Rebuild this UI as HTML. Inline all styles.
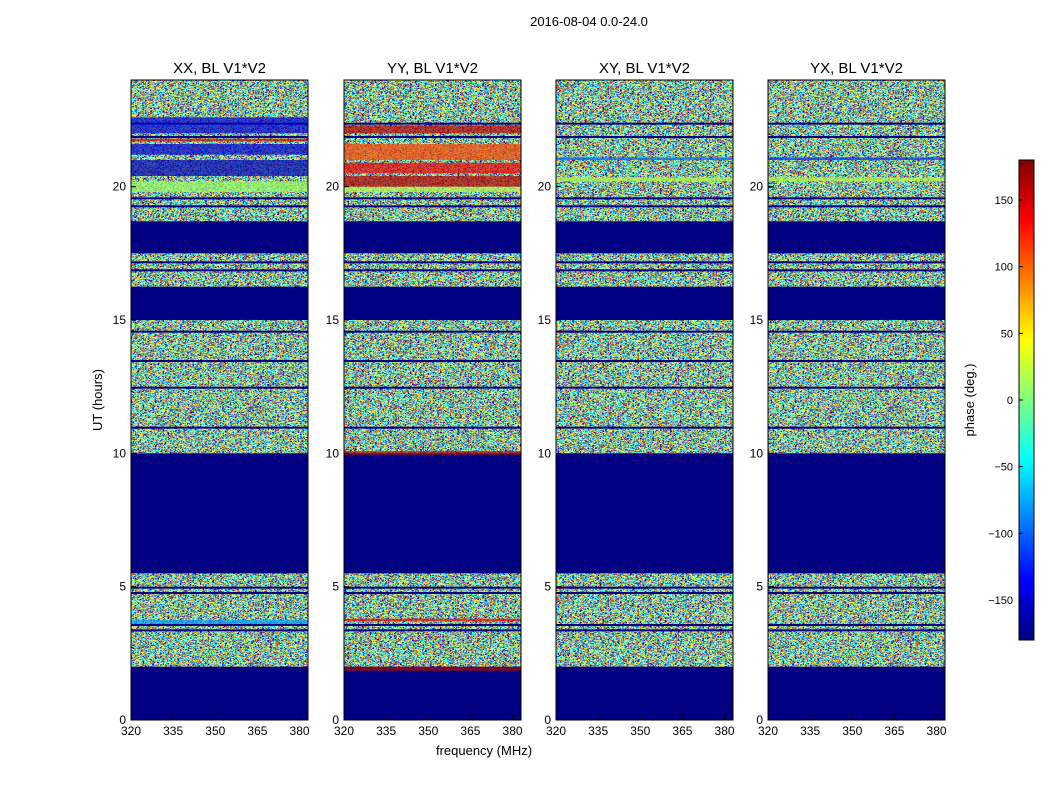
<!DOCTYPE html>
<html><head><meta charset="utf-8"><style>
body{margin:0;background:#fff;}
svg text{font-family:"Liberation Sans",sans-serif;}
</style></head><body>
<svg id="c" width="1050" height="800" xmlns="http://www.w3.org/2000/svg">
<defs>
<filter id="noise" x="0" y="0" width="100%" height="100%" filterUnits="objectBoundingBox">
<feTurbulence type="fractalNoise" baseFrequency="0.4 1.0" numOctaves="2" seed="3" result="t"/>
<feColorMatrix type="matrix" values="1 0 0 0 0  1 0 0 0 0  1 0 0 0 0  0 0 0 0 1"/>
<feComponentTransfer><feFuncR type="linear" slope="2.3" intercept="-0.68"/><feFuncG type="linear" slope="2.3" intercept="-0.68"/><feFuncB type="linear" slope="2.3" intercept="-0.68"/></feComponentTransfer>
<feComponentTransfer>
<feFuncR type="table" tableValues="0 0 0 0 0.5 1 1 1 0.5"/>
<feFuncG type="table" tableValues="0 0 0.5 1 1 1 0.5 0 0"/>
<feFuncB type="table" tableValues="0.5 1 1 1 0.5 0 0 0 0"/>
</feComponentTransfer>
</filter>
<linearGradient id="jet" x1="0" y1="1" x2="0" y2="0">
<stop offset="0" stop-color="#000080"/><stop offset="0.125" stop-color="#0000ff"/><stop offset="0.375" stop-color="#00ffff"/><stop offset="0.625" stop-color="#ffff00"/><stop offset="0.875" stop-color="#ff0000"/><stop offset="1" stop-color="#800000"/>
</linearGradient>
</defs>
<text x="589" y="26" font-size="13" text-anchor="middle">2016-08-04 0.0-24.0</text>
<g id="panels"></g>
<rect x="1019" y="160" width="15" height="480" fill="url(#jet)" stroke="#000"/>
<g id="cbticks"></g>
<text x="974" y="400" font-size="13" text-anchor="middle" transform="rotate(-90 974 400)">phase (deg.)</text>
<text x="102" y="400" font-size="13" text-anchor="middle" transform="rotate(-90 102 400)">UT (hours)</text>
<text x="484" y="755" font-size="13" text-anchor="middle">frequency (MHz)</text>
</svg>
<script>
const panelTitles=["XX, BL V1*V2","YY, BL V1*V2","XY, BL V1*V2","YX, BL V1*V2"];
const panelLeft=[131,344,556,768];
const emptyBands=[[0,2.0],[5.5,10.0],[15.0,16.25],[17.5,18.7]];
const gapLines=[3.6,3.4,4.8,5.0,11.0,12.5,13.5,14.6,16.9,17.2,19.3,19.6,21.9,22.4];
const panelStripes=[
 [[19.8,20.2,10],[20.4,21.0,-160],[21.2,21.6,-150],[22.0,22.6,-150],[21.7,21.8,150],[3.6,3.75,-80]],
 [[19.8,20.0,20],[20.0,20.4,160],[20.5,20.9,140],[21.0,21.6,110],[22.0,22.3,160],[1.85,2.0,160],[9.95,10.08,160],[3.7,3.8,140]],
 [[20.2,20.35,20],[21.0,21.1,-100]],
 [[20.2,20.35,20],[21.0,21.1,-120]]
];
const xTicks=[320,335,350,365,380];
const yTicks=[0,5,10,15,20];
const cbTicks=[-150,-100,-50,0,50,100,150];
const fMin=320,fMax=383,hMax=24;
const pw=177,yTop=80,yBot=720;
const ys=h=>yBot-(yBot-yTop)*h/hMax;
const cby=v=>400-v*480/360;
function jet(v){const t=(v+180)/360;const r=Math.max(0,Math.min(1,1.5-Math.abs(4*t-3))),g=Math.max(0,Math.min(1,1.5-Math.abs(4*t-2))),b=Math.max(0,Math.min(1,1.5-Math.abs(4*t-1)));return `rgb(${r*255|0},${g*255|0},${b*255|0})`;}
const NS="http://www.w3.org/2000/svg";
function el(tag,a,p){const e=document.createElementNS(NS,tag);for(const k in a)e.setAttribute(k,a[k]);p.appendChild(e);return e;}
const G=document.getElementById('panels');
panelTitles.forEach((title,i)=>{
 const x0=panelLeft[i];const xs=f=>x0+pw*(f-fMin)/(fMax-fMin);
 const g=el('g',{},G);
 
 
 const n=el('rect',{x:x0,y:yTop,width:pw,height:yBot-yTop,fill:'#888',filter:'url(#noise)'},g);
 
 
 emptyBands.forEach(b=>{const r=el('rect',{x:x0,y:ys(b[1]),width:pw,height:ys(b[0])-ys(b[1]),fill:'#000080'},g);
  
  });
 gapLines.forEach(h=>{const r=el('rect',{x:x0,y:ys(h),width:pw,height:2,fill:'#000080'},g);
  
  });
 panelStripes[i].forEach(s=>{const r=el('rect',{x:x0,y:ys(s[1]),width:pw,height:ys(s[0])-ys(s[1]),fill:jet(s[2]),opacity:0.7},g);
  
  });
 el('rect',{x:x0,y:yTop,width:pw,height:yBot-yTop,fill:'none',stroke:'#000'},g);
 const t=el('text',{x:x0+pw/2,y:yTop-7,'font-size':15,'text-anchor':'middle'},g);t.textContent=title;
 
 
 xTicks.forEach(f=>{el('line',{x1:xs(f),x2:xs(f),y1:yBot,y2:yBot-5,stroke:'#000'},g);
  const l=el('text',{x:xs(f),y:yBot+15,'font-size':12,'text-anchor':'middle'},g);l.textContent=f;
  
  });
 yTicks.forEach(h=>{el('line',{x1:x0,x2:x0+5,y1:ys(h),y2:ys(h),stroke:'#000'},g);
  const l=el('text',{x:x0-5,y:ys(h)+4,'font-size':12,'text-anchor':'end'},g);l.textContent=h;
  
  });
});
const CB=document.getElementById('cbticks');
cbTicks.forEach(v=>{el('line',{x1:1019,x2:1023,y1:cby(v),y2:cby(v),stroke:'#000'},CB);
 const l=el('text',{x:1013,y:cby(v)+4,'font-size':11,'text-anchor':'end'},CB);l.textContent=v<0?'\u2212'+(-v):v;
 
 });
</script>
</body></html>
